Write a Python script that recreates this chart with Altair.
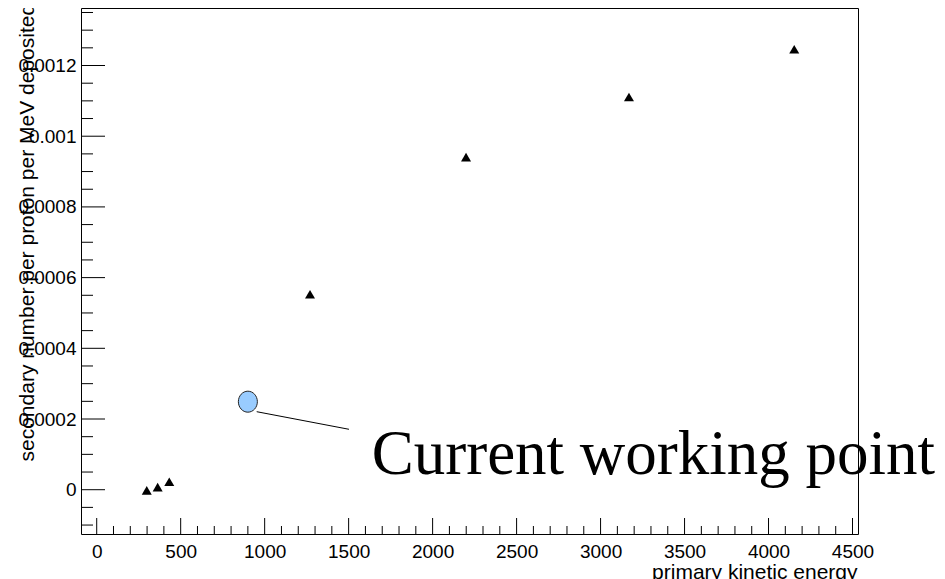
import altair as alt
import pandas as pd

# measured points (primary kinetic energy vs secondaries per proton per MeV deposited)
energy = [298, 363, 432, 1270, 2199, 3169, 4153]
secondaries = [-0.000002, 0.0000071, 0.0000226, 0.000553, 0.000941, 0.001111, 0.001246]

# annotated working point
wp_energy = [900]
wp_value = [0.000249]

# annotation leader line and label
leader_x = [952.6]
leader_x2 = [1502]
leader_y = [0.0002207]
leader_y2 = [0.0001709]
label_x = [1637]
label_y = [0.0000444]
label_text = ["Current working point"]

# axis ticks
x_major = [0, 500, 1000, 1500, 2000, 2500, 3000, 3500, 4000, 4500]
x_minor = [v for v in range(100, 4600, 100) if v % 500 != 0]
y_major = [0, 0.0002, 0.0004, 0.0006, 0.0008, 0.001, 0.0012]
y_minor = [-0.0001, -0.00005, 0.00005, 0.0001, 0.00015, 0.00025, 0.0003, 0.00035,
           0.00045, 0.0005, 0.00055, 0.00065, 0.0007, 0.00075, 0.00085, 0.0009,
           0.00095, 0.00105, 0.0011, 0.00115, 0.00125, 0.0013, 0.00135]

W = 777
H = 526
FONT = "Liberation Sans"

xs = alt.Scale(domain=[-93.5, 4532.7], nice=False, zero=False)
ys = alt.Scale(domain=[-0.0001253, 0.0013627], nice=False, zero=False)

pts = pd.DataFrame({"x": energy, "y": secondaries})
wp = pd.DataFrame({"x": wp_energy, "y": wp_value})
leader = pd.DataFrame({"x": leader_x, "x2": leader_x2, "y": leader_y, "y2": leader_y2})
label = pd.DataFrame({"x": label_x, "y": label_y, "t": label_text})

x_axis = alt.Axis(values=x_major, format="d", ticks=False, tickSize=0, domain=False, grid=False,
                  labelFont=FONT, labelFontSize=19, labelPadding=8, labelColor="black",
                  labelFlush=False, labelOverlap=False,
                  title="primary kinetic energy", titleFont=FONT, titleFontSize=21,
                  titleFontWeight="normal", titleColor="black",
                  titleX=776, titleY=44, titleAlign="right", titleBaseline="alphabetic")
y_axis = alt.Axis(values=y_major, format="~g", ticks=False, tickSize=0, domain=False, grid=False,
                  labelFont=FONT, labelFontSize=19, labelPadding=5, labelColor="black",
                  labelFlush=False, labelOverlap=False, labelBaseline="middle",
                  title="secondary number per proton per MeV deposited", titleFont=FONT,
                  titleFontSize=21, titleFontWeight="normal", titleColor="black",
                  titleAngle=270, titleX=-48, titleY=453, titleAlign="left",
                  titleBaseline="alphabetic")

X = alt.X("x:Q", scale=xs, axis=x_axis)
Y = alt.Y("y:Q", scale=ys, axis=y_axis)

points = alt.Chart(pts).mark_point(shape="triangle-up", filled=True, size=100,
                                   color="black", opacity=1).encode(x=X, y=Y)

ellipse_path = "M-0.905,0A0.905,1,0,1,0,0.905,0A0.905,1,0,1,0,-0.905,0Z"
working = alt.Chart(wp).mark_point(shape=ellipse_path, filled=True, size=441,
                                   fill="#99ccff", stroke="#222222", strokeWidth=1,
                                   opacity=1).encode(x=X, y=Y)

leader_line = alt.Chart(leader).mark_rule(color="black", strokeWidth=1).encode(
    x=X, x2="x2:Q", y=Y, y2="y2:Q")

label_mark = alt.Chart(label).mark_text(font="Liberation Serif", fontSize=63, align="left",
                                        baseline="alphabetic", color="black").encode(
    x=X, y=Y, text="t:N")

xmaj = alt.Chart(pd.DataFrame({"x": x_major})).mark_rule(color="black", strokeWidth=1).encode(
    x=X, y=alt.value(H), y2=alt.value(H - 16))
xmin = alt.Chart(pd.DataFrame({"x": x_minor})).mark_rule(color="black", strokeWidth=1).encode(
    x=X, y=alt.value(H), y2=alt.value(H - 8))
ymaj = alt.Chart(pd.DataFrame({"y": y_major})).mark_rule(color="black", strokeWidth=1).encode(
    y=Y, x=alt.value(0), x2=alt.value(24))
ymin = alt.Chart(pd.DataFrame({"y": y_minor})).mark_rule(color="black", strokeWidth=1).encode(
    y=Y, x=alt.value(0), x2=alt.value(12))

chart = alt.layer(points, xmaj, xmin, ymaj, ymin, leader_line, working, label_mark).properties(
    width=W, height=H,
    padding={"left": 73, "top": 0, "right": 79, "bottom": 45},
    autosize=alt.AutoSizeParams(type="none"),
    background="white",
).configure_view(stroke="black", strokeWidth=1)

chart.save("out.html", embed_options={"renderer": "svg", "actions": False})
